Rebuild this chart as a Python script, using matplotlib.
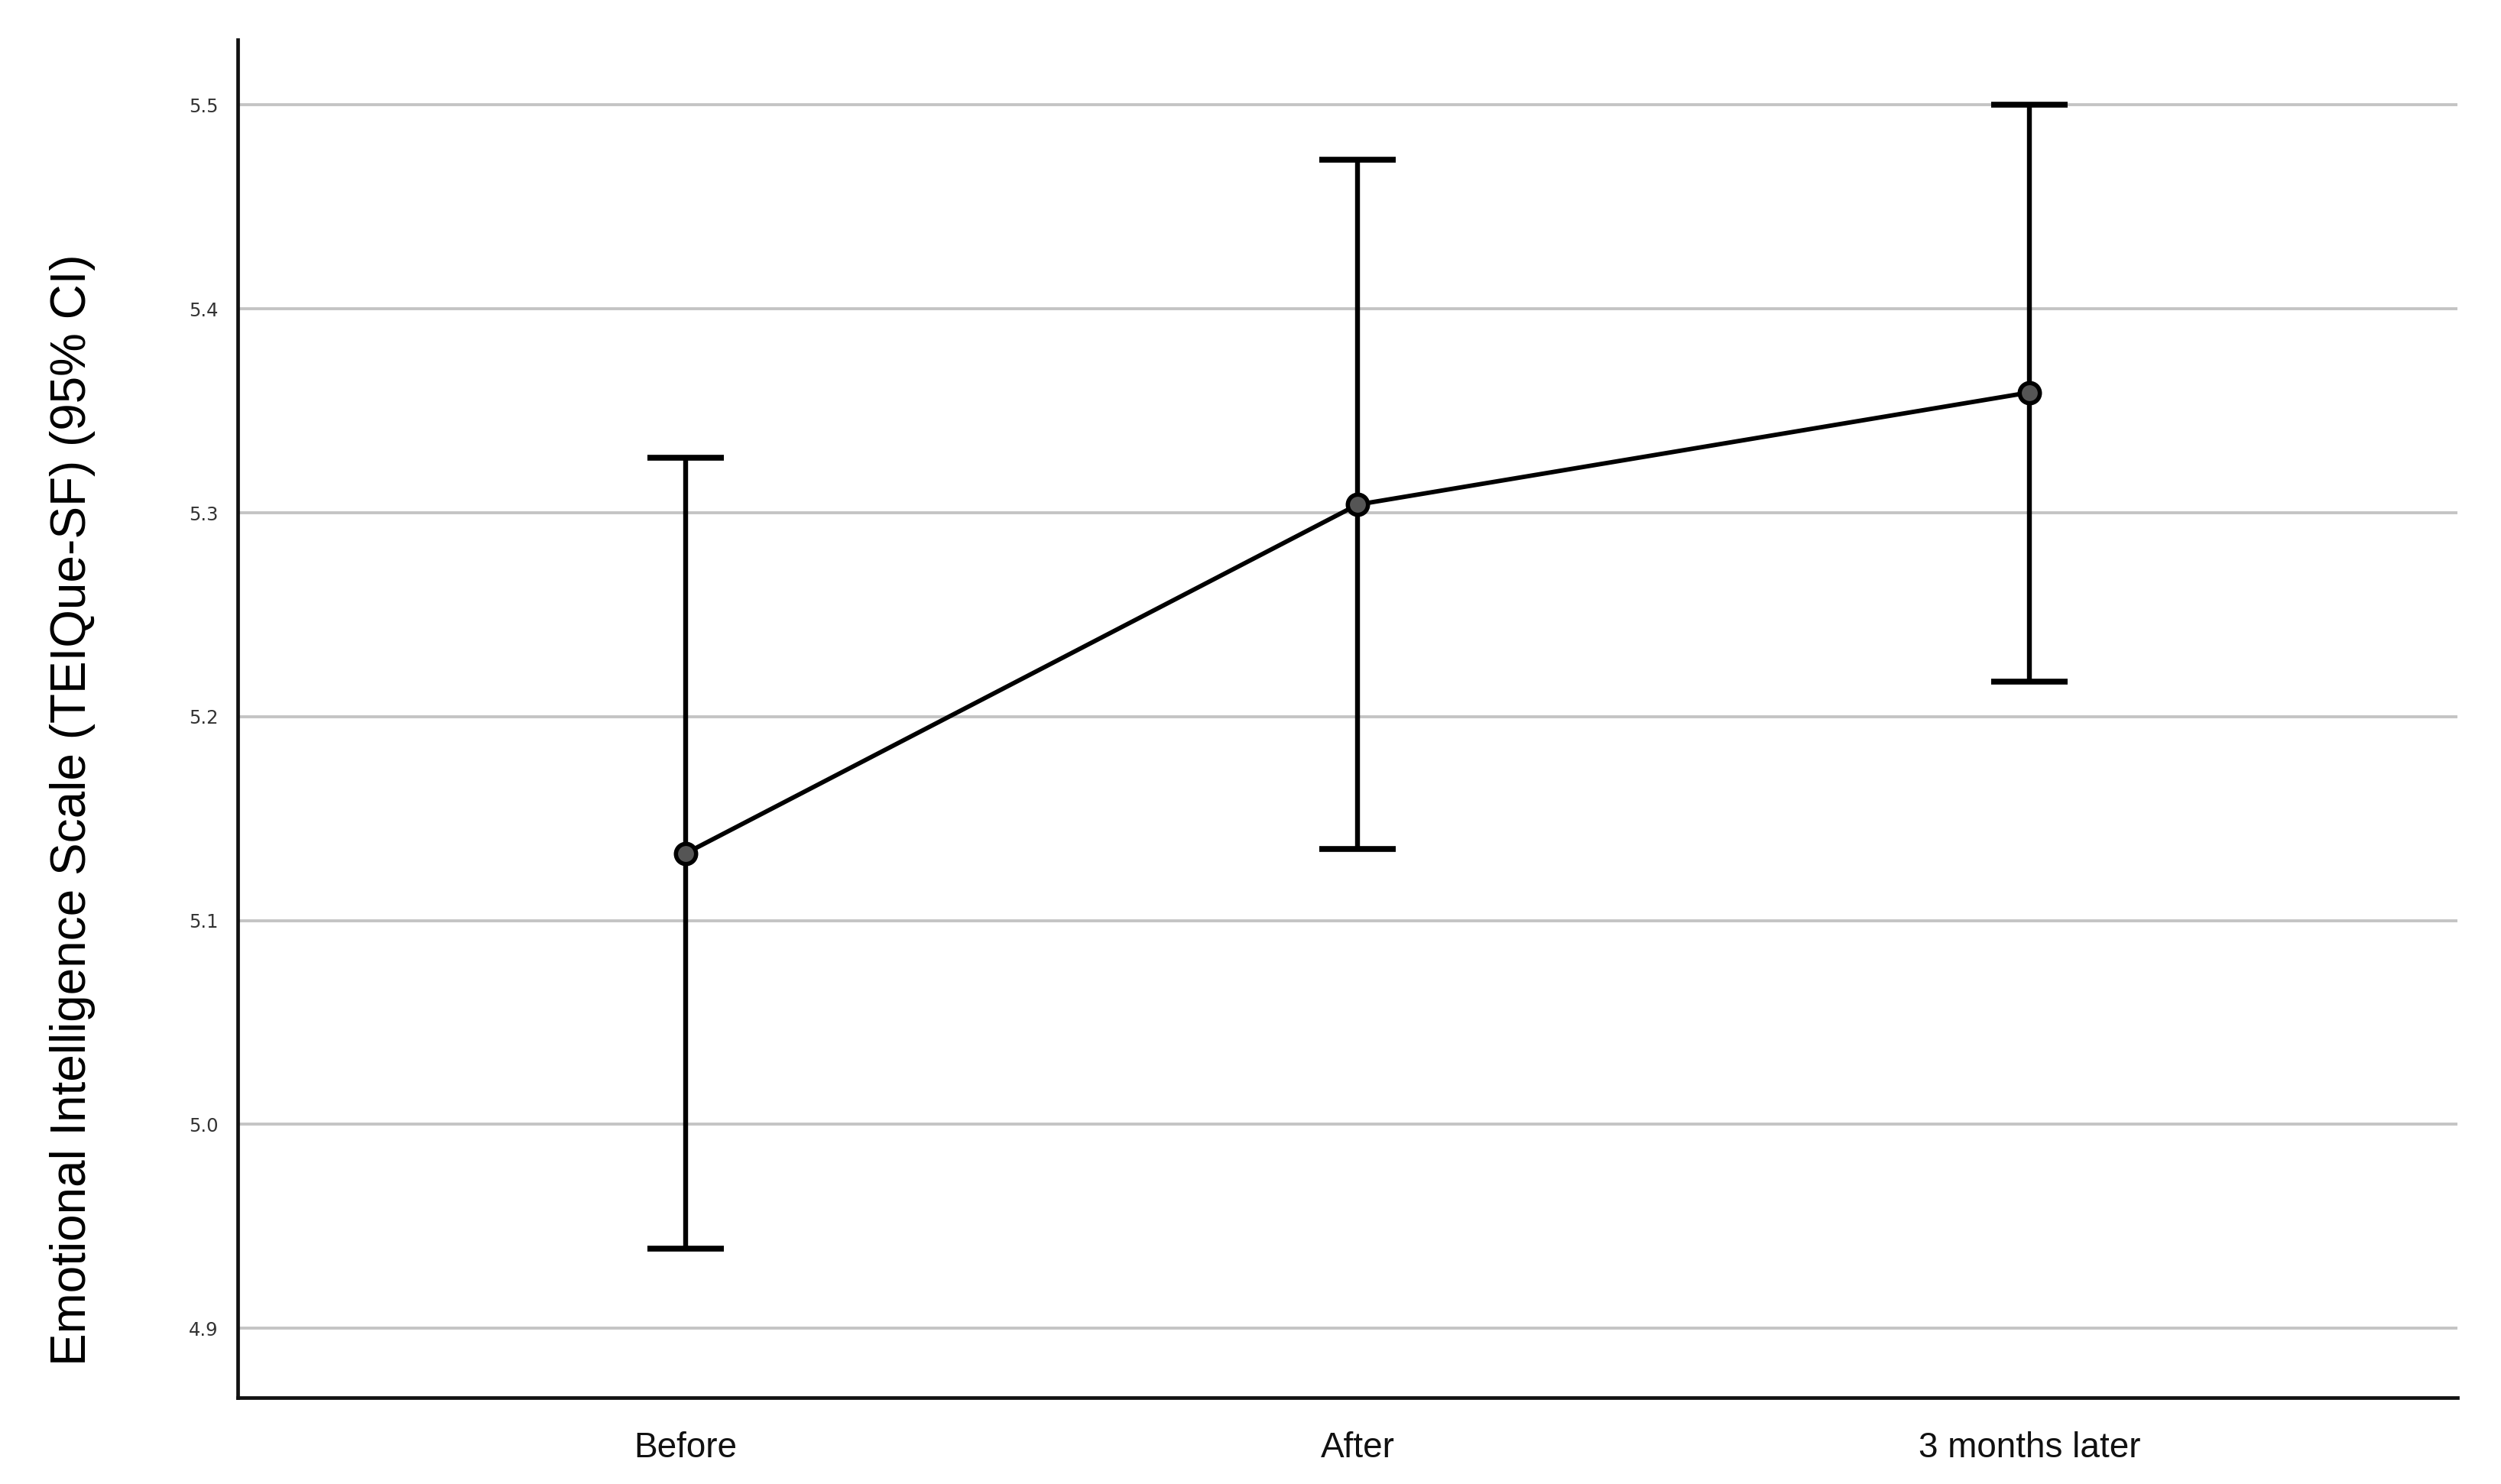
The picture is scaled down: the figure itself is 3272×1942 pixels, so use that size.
import matplotlib
matplotlib.use("Agg")
import matplotlib.pyplot as plt
from matplotlib import font_manager

categories = ["Before", "After", "3 months later"]
means = [5.133, 5.304, 5.359]
lower = [4.939, 5.135, 5.217]
upper = [5.327, 5.473, 5.500]
yticks = [4.9, 5.0, 5.1, 5.2, 5.3, 5.4, 5.5]

names = {f.name for f in font_manager.fontManager.ttflist}
narrow = "Liberation Sans Narrow" if "Liberation Sans Narrow" in names else "Liberation Sans"
plt.rcParams['font.family'] = [narrow, 'DejaVu Sans']

W, H = 3273, 1942
fig = plt.figure(figsize=(W / 100, H / 100), dpi=100)
ax = fig.add_axes([311 / W, 1 - 1829 / H, (3215 - 311) / W, (1829 - 52) / H])

x = list(range(len(categories)))
yerr = [[m - l for m, l in zip(means, lower)], [u - m for m, u in zip(means, upper)]]

for t in yticks:
    ax.axhline(t, color="#c4c4c4", lw=2.8, zorder=0)

ax.errorbar(x, means, yerr=yerr, fmt="none", ecolor="black", elinewidth=4.6,
            capsize=36, capthick=5.5, zorder=2)
ax.plot(x, means, color="black", lw=4.2, marker="o", markersize=19,
        markerfacecolor="#555555", markeredgecolor="black", markeredgewidth=4, zorder=3)

ax.set_xlim(-0.667, 2.637)
ax.set_ylim(4.866, 5.532)
ax.set_yticks(yticks)
ax.set_yticklabels([f"{t:.1f}" for t in yticks], fontsize=17.5, color="#333333",
                   family=["DejaVu Sans"])
ax.set_xticks(x)
ax.set_xticklabels(categories, fontsize=33, color="#111111")
ax.tick_params(axis="both", length=0)
ax.tick_params(axis="y", pad=18)
ax.tick_params(axis="x", pad=32)

for s in ["top", "right"]:
    ax.spines[s].set_visible(False)
for s in ["left", "bottom"]:
    ax.spines[s].set_linewidth(3.4)
    ax.spines[s].set_color("#111111")

ax.set_ylabel("Emotional Intelligence Scale (TEIQue-SF) (95% CI)", fontsize=46, color="black")
ax.yaxis.set_label_coords(-0.064, 0.433)

fig.savefig("out.png", dpi=100, facecolor="white")
